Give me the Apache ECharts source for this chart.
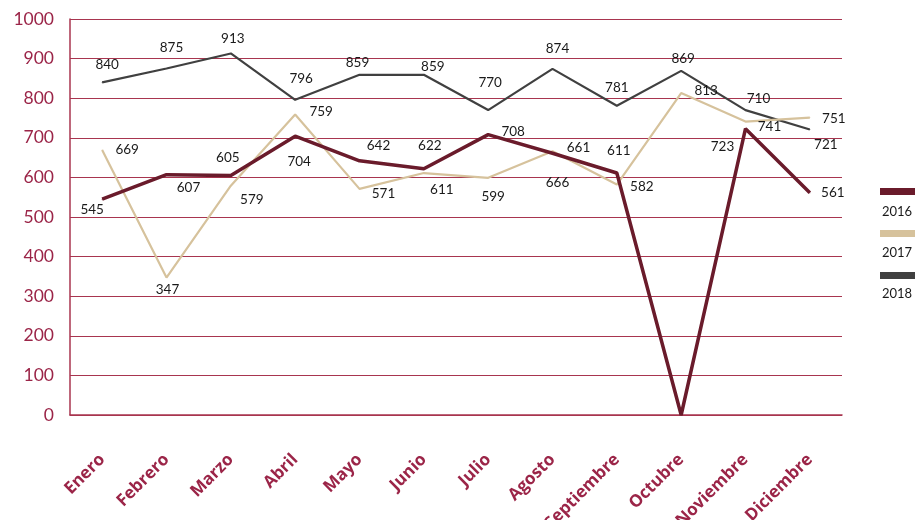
<!DOCTYPE html>
<html>
<head>
<meta charset="utf-8">
<script src="https://cdn.jsdelivr.net/npm/echarts@6/dist/echarts.min.js"></script>
<style>
  html, body { margin: 0; padding: 0; background: #fff; }
  #chart { width: 915px; height: 520px; }
</style>
</head>
<body>
<div id="chart"></div>
<script>
const months = ['Enero', 'Febrero', 'Marzo', 'Abril', 'Mayo', 'Junio', 'Julio',
  'Agosto', 'Septiembre', 'Octubre', 'Noviembre', 'Diciembre'];
const years = ['2016', '2017', '2018'];

const values2016 = [545, 607, 605, 704, 642, 622, 708, 661, 611, 0, 723, 561];
const values2017 = [669, 347, 579, 759, 571, 611, 599, 666, 582, 813, 741, 751];
const values2018 = [840, 875, 913, 796, 859, 859, 770, 874, 781, 869, 770, 721];

// printed data labels (as shown on the chart)
const labels2016 = ['545', '607', '605', '704', '642', '622', '708', '661', '611', '', '723', '561'];
const labels2017 = ['669', '347', '579', '759', '571', '611', '599', '666', '582', '813', '741', '751'];
const labels2018 = ['840', '875', '913', '796', '859', '859', '770', '874', '781', '869', '710', '721'];

const yTicks = [0, 100, 200, 300, 400, 500, 600, 700, 800, 900, 1000];

// label placement relative to each point (px)
const labelShift = {
  '2016': [[-10, 10], [22, 13], [-3, -18], [4, 25], [19, -15], [6, -23], [25, -3], [26, -6], [2, -22], [0, 0], [-23, 18], [23, 0]],
  '2017': [[25, 0], [1, 12], [21, 14], [26, -3], [24, 5], [18, 17], [5, 19], [5, 31], [25, 2], [25, -2], [24, 5], [24, 1]],
  '2018': [[5, -18], [5, -21], [2, -15], [6, -21], [-2, -12], [9, -8], [2, -27], [5, -20], [0, -18], [2, -12], [13, -11], [16, 15]]
};

const colors = ['#6a1b2b', '#d6c29c', '#404040'];
const widths = [3.5, 2.2, 2.2];
const axisRed = '#a8354f';
const textRed = '#9b2548';

function buildSeries(name, values, labels, idx) {
  return {
    name: name,
    type: 'line',
    symbol: 'circle',
    symbolSize: 1,
    showSymbol: true,
    color: colors[idx],
    lineStyle: { width: widths[idx], color: colors[idx] },
    itemStyle: { color: colors[idx] },
    z: 3 - idx,
    data: values.map(function (v, i) {
      return {
        value: v,
        label: {
          show: labels[i] !== '',
          offset: labelShift[name][i],
          formatter: labels[i]
        }
      };
    }),
    label: {
      position: 'inside',
      align: 'center',
      verticalAlign: 'middle',
      color: '#1a1a1a',
      fontSize: 13.5,
      fontFamily: 'Lato'
    },
    emphasis: { disabled: true }
  };
}

const chart = echarts.init(document.getElementById('chart'));
chart.setOption({
  animation: false,
  color: colors,
  grid: { left: 70, right: 73, top: 19, bottom: 105, containLabel: false, outerBoundsMode: 'none' },
  legend: [
    {
      data: years,
      orient: 'vertical',
      left: 875,
      top: 183,
      itemWidth: 45,
      itemHeight: 7,
      itemGap: 35,
      icon: 'rect',
      formatter: function () { return ''; },
      textStyle: { fontSize: 1 }
    },
    {
      data: years,
      orient: 'vertical',
      left: 872,
      top: 200,
      itemWidth: 0,
      itemHeight: 14,
      itemGap: 27.5,
      icon: 'none',
      textStyle: { color: '#1a1a1a', fontSize: 13, fontFamily: 'Lato' }
    }
  ],
  xAxis: {
    type: 'category',
    data: months,
    boundaryGap: true,
    axisLine: { show: true, lineStyle: { color: axisRed, width: 1.5 } },
    axisTick: { show: false },
    axisLabel: {
      interval: 0,
      rotate: 45,
      margin: 42,
      color: textRed,
      fontSize: 17,
      fontWeight: 'bold',
      fontFamily: 'Open Sans'
    }
  },
  yAxis: {
    type: 'value',
    min: yTicks[0],
    max: yTicks[yTicks.length - 1],
    interval: yTicks[1] - yTicks[0],
    axisLine: { show: true, lineStyle: { color: axisRed, width: 1.5 } },
    axisTick: { show: false },
    axisLabel: {
      margin: 16,
      color: textRed,
      fontSize: 17.5,
      fontFamily: 'Lato',
      formatter: function (v) { return String(v); }
    },
    splitLine: { show: true, lineStyle: { color: axisRed, width: 1 } }
  },
  series: [
    buildSeries('2016', values2016, labels2016, 0),
    buildSeries('2017', values2017, labels2017, 1),
    buildSeries('2018', values2018, labels2018, 2)
  ]
});
</script>
</body>
</html>
